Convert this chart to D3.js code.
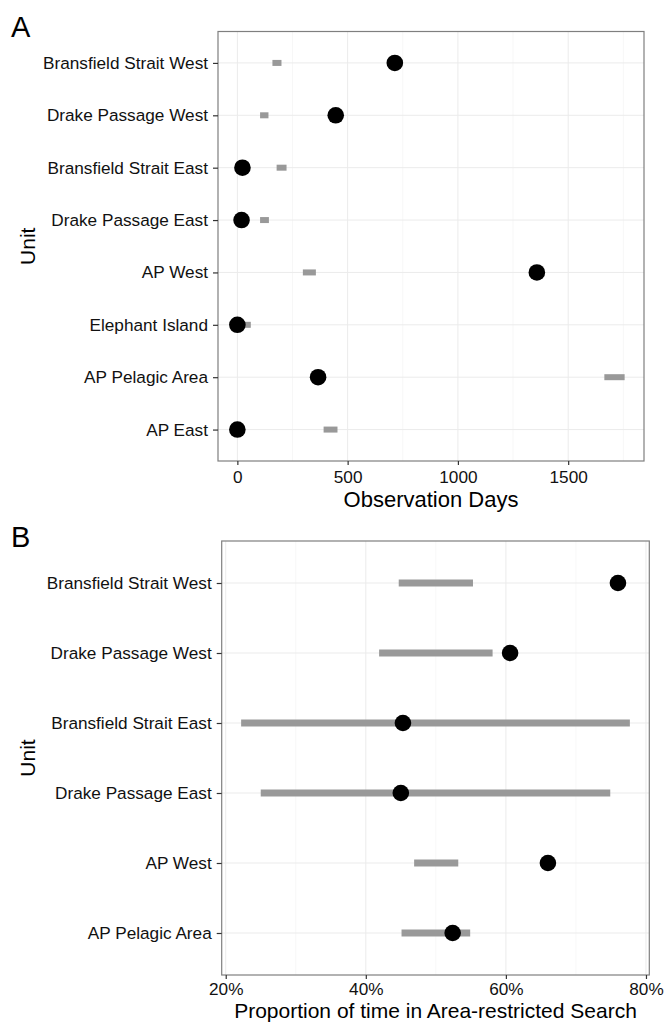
<!DOCTYPE html>
<html>
<head>
<meta charset="utf-8">
<script src="https://cdn.jsdelivr.net/npm/d3@7"></script>
<style>
  body { margin: 0; background: #fff; }
  svg { display: block; font-family: "Liberation Sans", Arial, sans-serif; }
</style>
</head>
<body>
<svg id="chart" width="664" height="1023"></svg>
<script>
// Panel A: observation days per unit (dot) and gray range
const unitsA = ['Bransfield Strait West', 'Drake Passage West', 'Bransfield Strait East',
  'Drake Passage East', 'AP West', 'Elephant Island', 'AP Pelagic Area', 'AP East'];
const obsDays = [714, 446, 23, 19, 1358, 0, 366, 0];
const rangeLowA = [159, 103, 178, 103, 297, 20, 1664, 391];
const rangeHighA = [200, 141, 223, 143, 356, 61, 1756, 454];
const ticksA = [0, 500, 1000, 1500];

// Panel B: proportion of time in area-restricted search
const unitsB = ['Bransfield Strait West', 'Drake Passage West', 'Bransfield Strait East',
  'Drake Passage East', 'AP West', 'AP Pelagic Area'];
const arsProp = [0.760, 0.606, 0.453, 0.450, 0.660, 0.524];
const rangeLowB = [0.447, 0.419, 0.222, 0.250, 0.469, 0.451];
const rangeHighB = [0.553, 0.581, 0.777, 0.749, 0.532, 0.549];
const ticksB = [0.2, 0.4, 0.6, 0.8];

const svg = d3.select('#chart');

function drawPanel(cfg) {
  const g = svg.append('g');
  const { left, top, right, bottom } = cfg.box;

  // ggplot-style 5% expansion of the data range
  const lo = d3.min(cfg.low.concat(cfg.values));
  const hi = d3.max(cfg.high.concat(cfg.values));
  const pad = (hi - lo) * 0.05;
  const x = d3.scaleLinear().domain([lo - pad, hi + pad]).range([left, right]);
  const y = d3.scalePoint().domain(cfg.units).range([top, bottom]).padding(0.6);

  // minor + major vertical grid
  const step = cfg.ticks[1] - cfg.ticks[0];
  const minor = d3.range(cfg.ticks[0] - step / 2, hi + pad, step)
    .filter(v => v > lo - pad && v < hi + pad);
  g.selectAll('.minor').data(minor).enter().append('line')
    .attr('x1', d => x(d)).attr('x2', d => x(d))
    .attr('y1', top).attr('y2', bottom)
    .attr('stroke', '#f2f2f2').attr('stroke-width', 0.6);
  g.selectAll('.majorx').data(cfg.ticks).enter().append('line')
    .attr('x1', d => x(d)).attr('x2', d => x(d))
    .attr('y1', top).attr('y2', bottom)
    .attr('stroke', '#ebebeb').attr('stroke-width', 1);
  g.selectAll('.majory').data(cfg.units).enter().append('line')
    .attr('x1', left).attr('x2', right)
    .attr('y1', d => y(d)).attr('y2', d => y(d))
    .attr('stroke', '#ebebeb').attr('stroke-width', 1);

  // gray ranges
  g.selectAll('.range').data(cfg.units).enter().append('rect')
    .attr('x', (d, i) => x(cfg.low[i]))
    .attr('width', (d, i) => x(cfg.high[i]) - x(cfg.low[i]))
    .attr('y', d => y(d) - cfg.barH / 2)
    .attr('height', cfg.barH)
    .attr('fill', '#999999');

  // points
  g.selectAll('.pt').data(cfg.units).enter().append('circle')
    .attr('cx', (d, i) => x(cfg.values[i]))
    .attr('cy', d => y(d))
    .attr('r', 8.3)
    .attr('fill', '#000');

  // panel border
  g.append('rect')
    .attr('x', left).attr('y', top)
    .attr('width', right - left).attr('height', bottom - top)
    .attr('fill', 'none').attr('stroke', '#7f7f7f').attr('stroke-width', 1.2);

  // axes
  const xAxis = g.append('g')
    .attr('transform', 'translate(0,' + bottom + ')')
    .call(d3.axisBottom(x).tickValues(cfg.ticks).tickFormat(cfg.fmt)
      .tickSize(4).tickPadding(cfg.xPad));
  const yAxis = g.append('g')
    .attr('transform', 'translate(' + left + ',0)')
    .call(d3.axisLeft(y).tickSize(5).tickPadding(5));
  [xAxis, yAxis].forEach(a => {
    a.select('.domain').remove();
    a.selectAll('.tick line').attr('stroke', '#333').attr('stroke-width', 1.2);
    a.selectAll('.tick text').attr('fill', '#111').style('font-size', '17.2px');
  });

  // titles
  g.append('text')
    .attr('x', (left + right) / 2).attr('y', cfg.titleY)
    .attr('text-anchor', 'middle').style('font-size', cfg.titleSize)
    .text(cfg.title);
  g.append('text')
    .attr('transform', 'translate(35,' + (top + bottom) / 2 + ') rotate(-90)')
    .attr('text-anchor', 'middle').style('font-size', '21px')
    .text('Unit');
  g.append('text')
    .attr('x', cfg.tag.x).attr('y', cfg.tag.y)
    .style('font-size', '29px')
    .text(cfg.tag.label);
}

drawPanel({
  units: unitsA, values: obsDays, low: rangeLowA, high: rangeHighA,
  ticks: ticksA, fmt: d3.format('d'), xPad: 6,
  box: { left: 218, top: 31.5, right: 644, bottom: 461 },
  barH: 6, title: 'Observation Days', titleY: 507, titleSize: '22px',
  tag: { label: 'A', x: 11, y: 36.5 },
});

drawPanel({
  units: unitsB, values: arsProp, low: rangeLowB, high: rangeHighB,
  ticks: ticksB, fmt: d3.format('.0%'), xPad: 4,
  box: { left: 221.7, top: 541, right: 649.3, bottom: 975 },
  barH: 7, title: 'Proportion of time in Area-restricted Search', titleY: 1018.3,
  titleSize: '21px',
  tag: { label: 'B', x: 11, y: 547 },
});
</script>
</body>
</html>
